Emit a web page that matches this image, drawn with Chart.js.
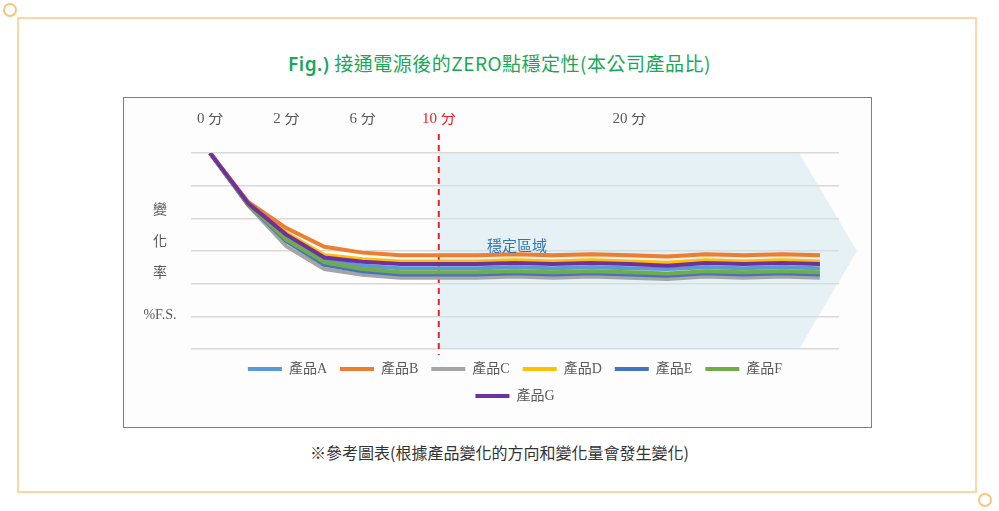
<!DOCTYPE html>
<html>
<head>
<meta charset="utf-8">
<script src="https://cdn.jsdelivr.net/npm/chart.js@4/dist/chart.umd.min.js"></script>
<style>
  body { margin:0; width:999px; height:511px; background:#fff; position:relative; overflow:hidden; font-family:"Noto Sans CJK TC", sans-serif; }
  .frame { position:absolute; left:17px; top:17px; width:960px; height:476px; border:2px solid #fbd7a4; box-sizing:border-box; }
  .dot { position:absolute; width:14px; height:14px; border:2px solid #f9c47e; border-radius:50%; background:#fff; box-sizing:border-box; }
  .title { position:absolute; left:0; width:999px; top:49px; text-align:center; font-size:19px; color:#1aa75a; letter-spacing:0.5px; }
  .title b { font-family:"Noto Sans", sans-serif; font-weight:600; }
  .box { position:absolute; left:123px; top:97px; width:749px; height:331px; border:1px solid #7f7f7f; background:#fdfdfd; box-sizing:border-box; }
  .ylab { position:absolute; left:130px; width:60px; text-align:center; color:#595959; font-size:14px; }
  .note { position:absolute; left:0; width:999px; top:440px; text-align:center; font-size:16px; color:#333; }
  .zone { position:absolute; left:487px; top:234px; font-size:15px; color:#2e75b6; }
</style>
</head>
<body>
<div class="frame"></div>
<div class="dot" style="left:3px;top:3px"></div>
<div class="dot" style="left:978px;top:493px"></div>
<div class="title"><b>Fig.)</b> 接通電源後的ZERO點穩定性(本公司產品比)</div>
<div class="box"><canvas id="chart" width="747" height="329"></canvas></div>
<div class="ylab" style="top:198px">變</div>
<div class="ylab" style="top:230px">化</div>
<div class="ylab" style="top:261px">率</div>
<div class="ylab" style="top:307px;font-family:'Liberation Serif',serif">%F.S.</div>
<div class="zone">穩定區域</div>
<div class="note">※參考圖表(根據產品變化的方向和變化量會發生變化)</div>
<script>
var categories = ['0 分','','2 分','','6 分','','10 分','','','','','20 分','','','','',''];
var productA = [6,4.45,3.4,2.72,2.55,2.47,2.47,2.47,2.5,2.47,2.5,2.47,2.45,2.5,2.47,2.5,2.47];
var productB = [6,4.5,3.7,3.13,2.95,2.87,2.87,2.87,2.9,2.87,2.9,2.87,2.83,2.9,2.87,2.9,2.87];
var productC = [6,4.4,3.15,2.45,2.27,2.18,2.18,2.18,2.22,2.18,2.22,2.18,2.14,2.22,2.18,2.22,2.18];
var productD = [6,4.47,3.55,2.88,2.75,2.68,2.68,2.68,2.72,2.68,2.72,2.68,2.64,2.72,2.68,2.72,2.68];
var productE = [6,4.42,3.3,2.58,2.38,2.28,2.28,2.28,2.32,2.28,2.32,2.28,2.24,2.32,2.28,2.32,2.28];
var productF = [6,4.43,3.35,2.65,2.45,2.35,2.35,2.35,2.38,2.35,2.38,2.35,2.31,2.38,2.35,2.38,2.35];
var productG = [6,4.46,3.5,2.8,2.67,2.6,2.6,2.6,2.63,2.6,2.63,2.6,2.55,2.63,2.6,2.63,2.6];
var stableFrom = 6;

function ds(label, data, color, order) {
  return { label: label, data: data, borderColor: color, backgroundColor: color, borderWidth: 4,
    pointRadius: 0, tension: 0, order: order };
}

var zonePlugin = {
  id: 'zone',
  beforeDatasetsDraw: function(chart) {
    var c = chart.ctx, x = chart.scales.x, y = chart.scales.y;
    var left = x.getPixelForValue(stableFrom), top = y.getPixelForValue(6), bot = y.getPixelForValue(0);
    var right = chart.chartArea.right - 40, tip = chart.chartArea.right + 18;
    c.save();
    c.fillStyle = 'rgba(205,230,236,0.5)';
    c.beginPath();
    c.moveTo(left, top); c.lineTo(right, top); c.lineTo(tip, (top + bot) / 2);
    c.lineTo(right, bot); c.lineTo(left, bot); c.closePath(); c.fill();
    c.strokeStyle = '#e8202a'; c.lineWidth = 2; c.setLineDash([6, 5]);
    c.beginPath(); c.moveTo(left, top - 19); c.lineTo(left, bot + 6); c.stroke();
    c.restore();
  }
};

var serif = 'Liberation Serif, Noto Sans CJK TC, serif';

new Chart(document.getElementById('chart'), {
  type: 'line',
  data: {
    labels: categories,
    datasets: [
      ds('產品A', productA, '#5b9bd5', 4),
      ds('產品B', productB, '#ed7d31', 1),
      ds('產品C', productC, '#a5a5a5', 6),
      ds('產品D', productD, '#ffc000', 2),
      ds('產品E', productE, '#4472c4', 5),
      ds('產品F', productF, '#70ad47', 3),
      ds('產品G', productG, '#7030a0', 0)
    ]
  },
  options: {
    responsive: false,
    animation: false,
    layout: { padding: { left: 67, right: 32, top: 15, bottom: 14 } },
    plugins: {
      tooltip: { enabled: false },
      legend: {
        position: 'bottom',
        labels: {
          usePointStyle: true, pointStyle: 'line', pointStyleWidth: 34, padding: 13,
          sort: function(a, b) { return a.datasetIndex - b.datasetIndex; },
          color: '#595959', font: { family: serif, size: 14 }
        }
      }
    },
    scales: {
      x: {
        position: 'top', offset: true,
        grid: { display: false }, border: { display: false },
        afterFit: function(s) { s.height = 40; },
        ticks: {
          autoSkip: false, maxRotation: 0, padding: 17,
          font: { family: serif, size: 15 },
          color: function(c) { return c.index === stableFrom ? '#e8202a' : '#595959'; }
        }
      },
      y: {
        min: 0, max: 6,
        ticks: { display: false, stepSize: 1 },
        border: { display: false },
        grid: { color: '#d9d9d9', lineWidth: 1.5, drawTicks: false }
      }
    }
  },
  plugins: [zonePlugin]
});
</script>
</body>
</html>
